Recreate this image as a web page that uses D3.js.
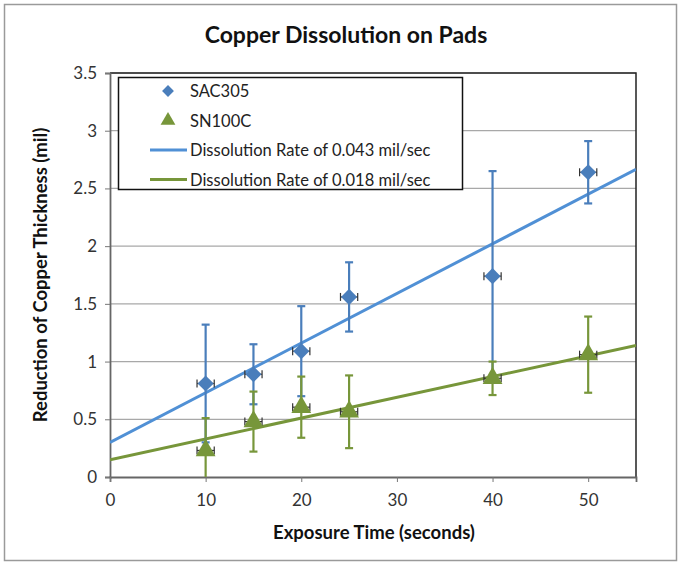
<!DOCTYPE html>
<html>
<head>
<meta charset="utf-8">
<script src="https://cdn.jsdelivr.net/npm/d3@7"></script>
<style>
  body { margin: 0; background: #fff; }
  svg { font-family: Lato, "Open Sans", sans-serif; }
</style>
</head>
<body>
<div id="chart"></div>
<script>
// data
const exposureTime = [10, 15, 20, 25, 40, 50];
const timeError = 0.9;
const sac305 = [0.81, 0.89, 1.09, 1.56, 1.74, 2.64];
const sac305Error = [0.51, 0.26, 0.39, 0.30, 0.91, 0.27];
const sn100c = [0.23, 0.48, 0.605, 0.565, 0.855, 1.06];
const sn100cError = [0.28, 0.26, 0.265, 0.315, 0.145, 0.33];
const rates = [0.043, 0.018];
const intercepts = [0.30, 0.15];
const yTicks = [0, 0.5, 1, 1.5, 2, 2.5, 3, 3.5];
const xTicks = [0, 10, 20, 30, 40, 50];

const width = 681;
const height = 563;
const margin = { top: 73, right: 45, bottom: 86, left: 110 };
const chartWidth = width - margin.left - margin.right;
const chartHeight = height - margin.top - margin.bottom;

const blue = "#4A7EBB";
const blueLine = "#5090D5";
const green = "#77963A";

const svg = d3.select("#chart").append("svg")
  .attr("width", width)
  .attr("height", height);

svg.append("rect")
  .attr("x", 4.5).attr("y", 4.5)
  .attr("width", width - 9).attr("height", height - 7)
  .attr("fill", "#fff")
  .attr("stroke", "#9a9a9a")
  .attr("stroke-width", 1.5);

svg.append("text")
  .attr("x", 346).attr("y", 43)
  .attr("text-anchor", "middle")
  .attr("font-size", 23)
  .attr("font-weight", "bold")
  .attr("fill", "#111")
  .text("Copper Dissolution on Pads");

const x = d3.scaleLinear([0, 55], [0, chartWidth]);
const y = d3.scaleLinear([0, 3.5], [chartHeight, 0]);

const chart = svg.append("g")
  .attr("transform", `translate(${margin.left}, ${margin.top})`);

svg.append("clipPath").attr("id", "plot-clip")
  .append("rect").attr("width", chartWidth).attr("height", chartHeight);

// gridlines
chart.append("g")
  .selectAll("line")
  .data(yTicks.slice(1))
  .join("line")
  .attr("x1", 0).attr("x2", chartWidth)
  .attr("y1", d => y(d)).attr("y2", d => y(d))
  .attr("stroke", "#a8a8a8")
  .attr("stroke-width", 1.2);

// plot border
chart.append("path")
  .attr("d", `M0,0H${chartWidth}V${chartHeight}`)
  .attr("fill", "none")
  .attr("stroke", "#222")
  .attr("stroke-width", 1.5);

// axes
const yAxis = chart.append("g")
  .call(d3.axisLeft(y).tickValues(yTicks).tickSize(5).tickPadding(8)
    .tickFormat(d3.format("")));
const xAxis = chart.append("g")
  .attr("transform", `translate(0, ${chartHeight})`)
  .call(d3.axisBottom(x).tickValues(xTicks).tickSize(5).tickPadding(12));

[yAxis, xAxis].forEach(a => {
  a.select(".domain").attr("stroke", "#666").attr("stroke-width", 1.8);
  a.selectAll(".tick line").attr("stroke", "#777").attr("stroke-width", 1);
  a.selectAll(".tick text")
    .attr("font-size", 17)
    .attr("fill", "#333")
    .style("font-family", "Lato, 'Open Sans', sans-serif");
});

// axis titles
svg.append("text")
  .attr("x", 374).attr("y", 539)
  .attr("text-anchor", "middle")
  .attr("font-size", 18.5)
  .attr("font-weight", "bold")
  .attr("fill", "#111")
  .text("Exposure Time (seconds)");

svg.append("text")
  .attr("transform", "translate(47, 275) rotate(-90)")
  .attr("text-anchor", "middle")
  .attr("font-size", 18.5)
  .attr("font-weight", "bold")
  .attr("fill", "#111")
  .text("Reduction of Copper Thickness (mil)");

const plot = chart.append("g").attr("clip-path", "url(#plot-clip)");

// trend lines
const trendColors = [blueLine, green];
plot.selectAll(".trend")
  .data(rates.map((r, i) => ({ rate: r, b: intercepts[i], color: trendColors[i] })))
  .join("line")
  .attr("class", "trend")
  .attr("x1", x(0)).attr("x2", x(55))
  .attr("y1", d => y(d.b))
  .attr("y2", d => y(d.b + d.rate * 55))
  .attr("stroke", d => d.color)
  .attr("stroke-width", 3);

function drawSeries(values, errors, color, symbolType, symbolSize, rotate) {
  const pts = exposureTime.map((t, i) => ({ t, v: values[i], e: errors[i] }));
  const g = plot.append("g");
  const cap = 4;

  const eb = g.selectAll(".err").data(pts).join("g").attr("class", "err")
    .attr("stroke", color).attr("stroke-width", 2.2);
  eb.append("line")
    .attr("x1", d => x(d.t)).attr("x2", d => x(d.t))
    .attr("y1", d => y(d.v - d.e)).attr("y2", d => y(d.v + d.e));
  eb.append("line")
    .attr("x1", d => x(d.t) - cap).attr("x2", d => x(d.t) + cap)
    .attr("y1", d => y(d.v + d.e)).attr("y2", d => y(d.v + d.e));
  eb.append("line")
    .attr("x1", d => x(d.t) - cap).attr("x2", d => x(d.t) + cap)
    .attr("y1", d => y(d.v - d.e)).attr("y2", d => y(d.v - d.e));

  const hb = g.selectAll(".herr").data(pts).join("g").attr("class", "herr")
    .attr("stroke", "#333").attr("stroke-width", 1.2);
  hb.append("line")
    .attr("x1", d => x(d.t - timeError)).attr("x2", d => x(d.t + timeError))
    .attr("y1", d => y(d.v)).attr("y2", d => y(d.v));
  hb.append("line")
    .attr("x1", d => x(d.t - timeError)).attr("x2", d => x(d.t - timeError))
    .attr("y1", d => y(d.v) - cap).attr("y2", d => y(d.v) + cap);
  hb.append("line")
    .attr("x1", d => x(d.t + timeError)).attr("x2", d => x(d.t + timeError))
    .attr("y1", d => y(d.v) - cap).attr("y2", d => y(d.v) + cap);

  g.selectAll(".marker").data(pts).join("path").attr("class", "marker")
    .attr("d", d3.symbol(symbolType, symbolSize))
    .attr("transform", d => `translate(${x(d.t)}, ${y(d.v)}) rotate(${rotate})`)
    .attr("fill", color);
}

drawSeries(sac305, sac305Error, blue, d3.symbolSquare, 130, 45);
drawSeries(sn100c, sn100cError, green, d3.symbolTriangle, 170, 0);

// legend
const legend = svg.append("g");
legend.append("rect")
  .attr("x", 118.5).attr("y", 77.5)
  .attr("width", 344).attr("height", 112)
  .attr("fill", "#fff")
  .attr("stroke", "#111")
  .attr("stroke-width", 1.5);

const legendItems = [
  { label: "SAC305", type: "marker", symbol: d3.symbolSquare, size: 70, rotate: 45, color: blue },
  { label: "SN100C", type: "marker", symbol: d3.symbolTriangle, size: 95, rotate: 0, color: green },
  { label: `Dissolution Rate of ${rates[0].toFixed(3)} mil/sec`, type: "line", color: blueLine },
  { label: `Dissolution Rate of ${rates[1].toFixed(3)} mil/sec`, type: "line", color: green }
];

const item = legend.selectAll(".item").data(legendItems).join("g")
  .attr("class", "item")
  .attr("transform", (d, i) => `translate(0, ${91 + i * 29.5})`);

item.filter(d => d.type === "marker").append("path")
  .attr("d", d => d3.symbol(d.symbol, d.size)())
  .attr("transform", d => `translate(168, 0) rotate(${d.rotate})`)
  .attr("fill", d => d.color);

item.filter(d => d.type === "line").append("line")
  .attr("x1", 150).attr("x2", 187)
  .attr("stroke", d => d.color)
  .attr("stroke-width", 3);

item.append("text")
  .attr("x", 190).attr("y", 6)
  .attr("font-size", 16.5)
  .attr("fill", "#222")
  .text(d => d.label);
</script>
</body>
</html>
